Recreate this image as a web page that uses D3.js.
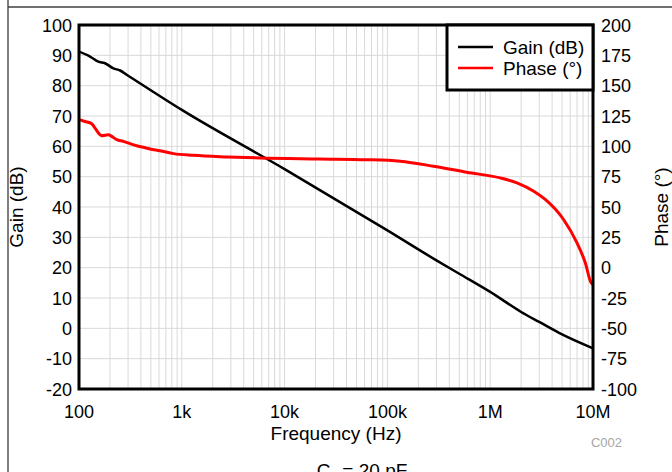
<!DOCTYPE html>
<html><head><meta charset="utf-8">
<script src="https://cdn.jsdelivr.net/npm/d3@7"></script>
<style>body{margin:0;background:#fff}svg{display:block}text{font-family:"Liberation Sans",Arial,sans-serif}</style>
</head><body>
<svg id="c" width="672" height="472"></svg>
<script>
// Data
const gainFreq = [100,128,154,179,216,251,291,1000,10000,100000,300000,500000,1e6,2e6,3e6,5e6,1e7];
const gainDb   = [91.2,89.6,87.9,87.4,85.7,85.0,83.6,72,52.5,32.3,22.4,18,12,5.4,2.1,-2,-6.6];
const phaseFreq = [102,114,133,143,166,193,208,233,270,313,364,422,490,613,830,1295,2744,5766,22000,62800,133000,280000,590000,1.25e6,1.82e6,2.65e6,3.43e6,5.17e6,6.97e6,8.41e6,9.56e6,1e7];
const phaseDeg  = [121.9,120.5,118.6,115.1,108.8,109.6,108.2,105.5,104.1,102.2,100.5,99.2,97.8,96.4,94.0,92.6,91.3,90.4,89.6,89.0,87.7,83.6,78.6,74.0,69.9,63.0,56.2,39.7,20.6,4.1,-12.3,-14];
const xTicks = [100,1000,10000,100000,1e6,1e7];
const xTickLabels = ["100","1k","10k","100k","1M","10M"];
const gainTicks = [100,90,80,70,60,50,40,30,20,10,0,-10,-20];
const phaseTicks = [200,175,150,125,100,75,50,25,0,-25,-50,-75,-100];
const seriesNames = ["Gain (dB)","Phase (°)"];

const svg = d3.select("#c");
const L=79,R=593,T=25,B=389;
const x = d3.scaleLog().domain([100,1e7]).range([L,R]);
const yG = d3.scaleLinear().domain([-20,100]).range([B,T]);
const yP = d3.scaleLinear().domain([-100,200]).range([B,T]);

// outer frame lines
svg.append("line").attr("x1",8).attr("x2",8).attr("y1",0).attr("y2",472).attr("stroke","#7f7f7f").attr("stroke-width",2);
svg.append("line").attr("x1",8).attr("x2",672).attr("y1",7).attr("y2",7).attr("stroke","#404040").attr("stroke-width",1.5);

// grid
const minor=[];
for(let d=100; d<1e7; d*=10){ for(let k=1;k<10;k++) minor.push(d*k); }
svg.append("g").selectAll("line").data(minor).join("line")
  .attr("x1",d=>x(d)).attr("x2",d=>x(d)).attr("y1",T).attr("y2",B)
  .attr("stroke","#d9d9d9").attr("stroke-width",1);
svg.append("g").selectAll("line").data(gainTicks).join("line")
  .attr("x1",L).attr("x2",R).attr("y1",d=>yG(d)).attr("y2",d=>yG(d))
  .attr("stroke","#d9d9d9").attr("stroke-width",1);

// lines
const gData = gainFreq.map((f,i)=>[f,gainDb[i]]);
const pData = phaseFreq.map((f,i)=>[f,phaseDeg[i]]);
svg.append("path").datum(gData).attr("fill","none").attr("stroke","#000").attr("stroke-width",2.5)
  .attr("d",d3.line().x(d=>x(d[0])).y(d=>yG(d[1])).curve(d3.curveMonotoneX));
svg.append("path").datum(pData).attr("fill","none").attr("stroke","#ff0000").attr("stroke-width",3)
  .attr("d",d3.line().x(d=>x(d[0])).y(d=>yP(d[1])).curve(d3.curveMonotoneX));

// frame
svg.append("rect").attr("x",L).attr("y",T).attr("width",R-L).attr("height",B-T)
  .attr("fill","none").attr("stroke","#000").attr("stroke-width",3);

// axes labels
const fs=18;
svg.append("g").selectAll("text").data(gainTicks).join("text")
  .attr("x",72).attr("y",d=>yG(d)+6.5).attr("text-anchor","end").attr("font-size",fs).text(d=>d);
svg.append("g").selectAll("text").data(phaseTicks).join("text")
  .attr("x",601).attr("y",d=>yP(d)+6.5).attr("text-anchor","start").attr("font-size",fs).text(d=>d);
svg.append("g").selectAll("text").data(xTicks).join("text")
  .attr("x",d=>x(d)).attr("y",418).attr("text-anchor","middle").attr("font-size",fs).text((d,i)=>xTickLabels[i]);

svg.append("text").attr("x",336).attr("y",440).attr("text-anchor","middle").attr("font-size",19).text("Frequency (Hz)");
svg.append("text").attr("transform","translate(23,207) rotate(-90)").attr("text-anchor","middle").attr("font-size",19).text("Gain (dB)");
svg.append("text").attr("transform","translate(668,207) rotate(-90)").attr("text-anchor","middle").attr("font-size",19).text("Phase (°)");
svg.append("text").attr("x",622).attr("y",447).attr("text-anchor","end").attr("font-size",13).attr("fill","#a6a6a6").text("C002");
const cl = svg.append("text").attr("x",362).attr("y",477).attr("text-anchor","middle").attr("font-size",19);
cl.append("tspan").text("C");
cl.append("tspan").attr("font-size",12).attr("dy",4).text("L");
cl.append("tspan").attr("dy",-4).text(" = 20 pF");

// legend
const lg = svg.append("g");
lg.append("rect").attr("x",447).attr("y",T).attr("width",R-447).attr("height",65).attr("fill","#fff").attr("stroke","#000").attr("stroke-width",3);
const colors=["#000","#ff0000"];
seriesNames.forEach((n,i)=>{
  const yy=47+i*21;
  lg.append("line").attr("x1",458).attr("x2",493).attr("y1",yy).attr("y2",yy).attr("stroke",colors[i]).attr("stroke-width",2.5);
  lg.append("text").attr("x",503).attr("y",yy+6.5).attr("font-size",19).text(n);
});
</script>
</body></html>
